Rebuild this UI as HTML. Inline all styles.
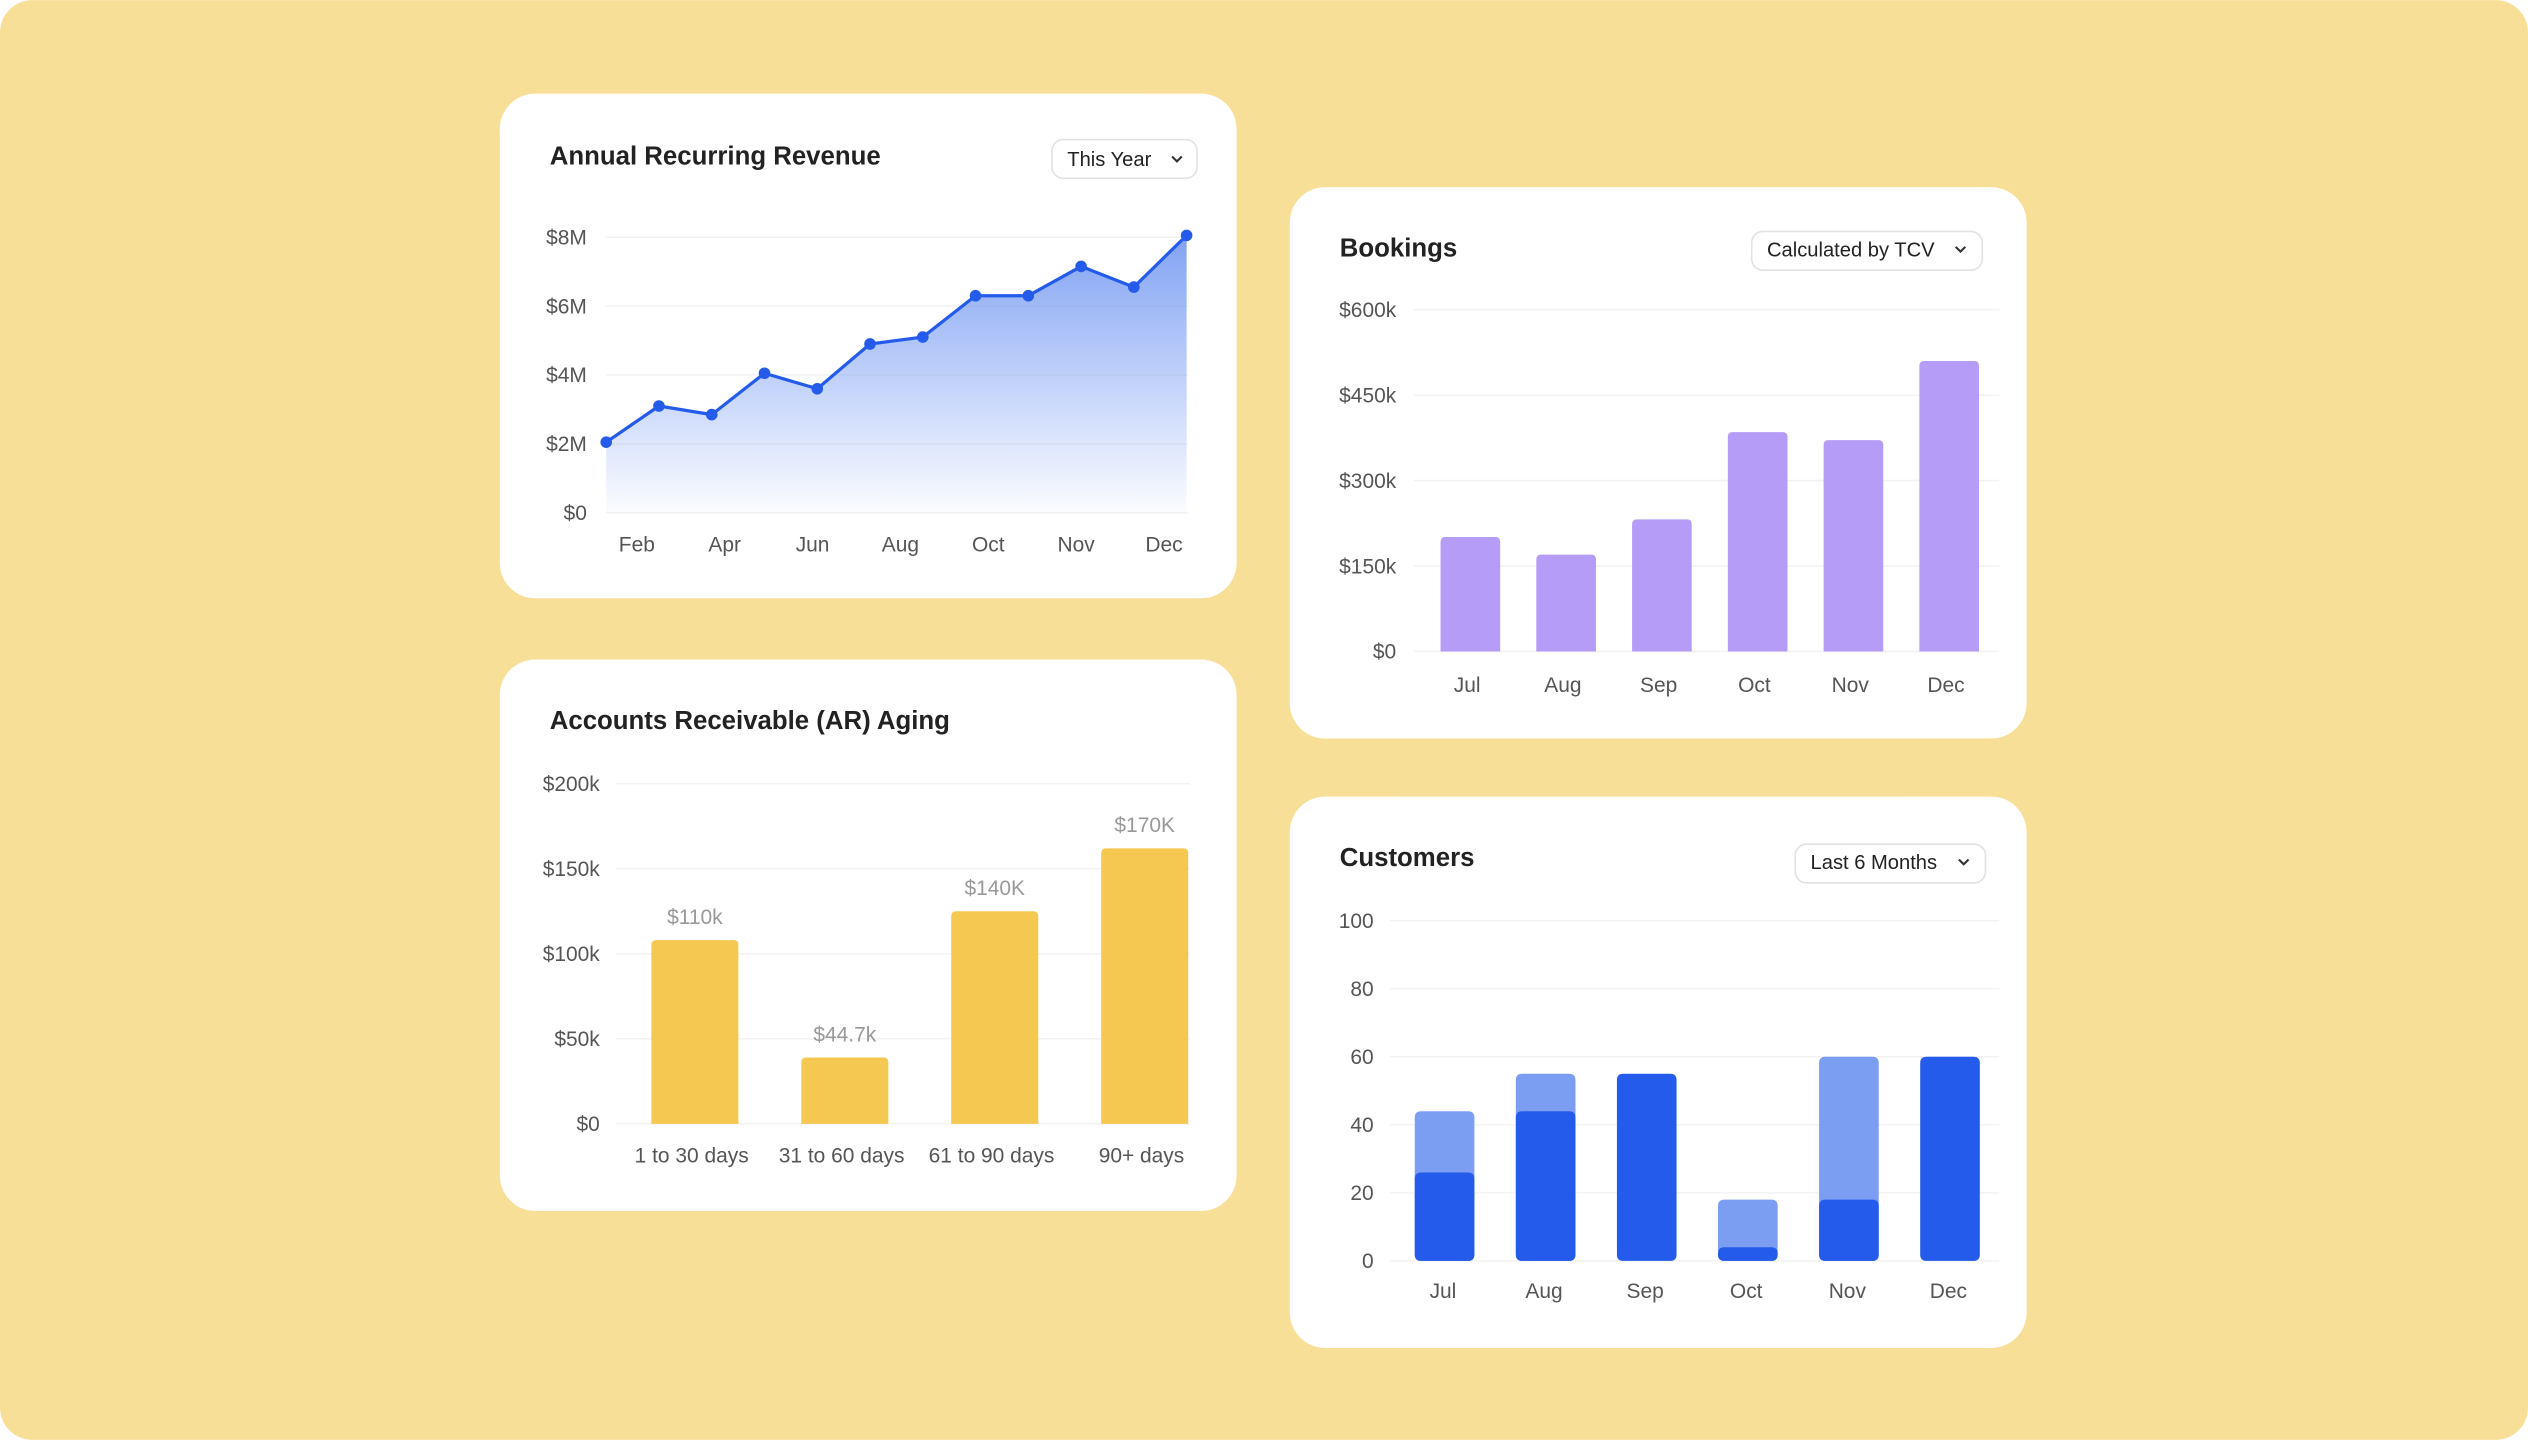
<!DOCTYPE html>
<html><head><meta charset="utf-8">
<style>
html,body{margin:0;padding:0;background:#fff;}
svg{display:block;font-family:"Liberation Sans",Arial,sans-serif;}
.tick{font-size:13px;fill:#555;}
.title{font-size:16px;font-weight:bold;fill:#222;}
.dd{font-size:12.5px;fill:#222;}
.grid{stroke:#f3f3f3;stroke-width:1;}
</style></head>
<body>
<svg id="root" width="2528" height="1440" viewBox="0 0 1568 893" xmlns="http://www.w3.org/2000/svg">
<defs>
<linearGradient id="areaGrad" x1="0" y1="0" x2="0" y2="1">
<stop offset="0" stop-color="#7b9ef3" stop-opacity="0.95"/>
<stop offset="1" stop-color="#7b9ef3" stop-opacity="0.03"/>
</linearGradient>
</defs>
<rect x="0" y="0" width="1568" height="893" rx="20" fill="#F8DF98"/>

<rect x="310" y="58" width="457" height="313" rx="22" fill="#fff"/>
<rect x="800" y="116" width="457" height="342" rx="22" fill="#fff"/>
<rect x="310" y="409" width="457" height="342" rx="22" fill="#fff"/>
<rect x="800" y="494" width="457" height="342" rx="22" fill="#fff"/>

<text x="341" y="102" class="title">Annual Recurring Revenue</text>
<g>
<rect x="652.5" y="86.5" width="90" height="24" rx="7" fill="#fff" stroke="#e2e2e2"/>
<text x="662" y="103" class="dd">This Year</text>
<path d="M727 97 l3 3 l3 -3" fill="none" stroke="#333" stroke-width="1.3"/>
</g>

<text x="831" y="159" class="title">Bookings</text>
<g>
<rect x="1086.5" y="143.5" width="143" height="24" rx="7" fill="#fff" stroke="#e2e2e2"/>
<text x="1096" y="159" class="dd">Calculated by TCV</text>
<path d="M1213 153 l3 3 l3 -3" fill="none" stroke="#333" stroke-width="1.3"/>
</g>

<text x="341" y="452" class="title">Accounts Receivable (AR) Aging</text>

<text x="831" y="537" class="title">Customers</text>
<g>
<rect x="1113.5" y="523.5" width="118" height="24" rx="7" fill="#fff" stroke="#e2e2e2"/>
<text x="1123" y="539" class="dd">Last 6 Months</text>
<path d="M1215 533 l3 3 l3 -3" fill="none" stroke="#333" stroke-width="1.3"/>
</g>

<g id="arr"></g><g id="book"></g><g id="ar"></g><g id="cust"></g>
</svg>
<script>
const arrTicks = [0, 2, 4, 6, 8];
const arrTickLabels = ["$0", "$2M", "$4M", "$6M", "$8M"];
const arrValues = [2.05, 3.1, 2.85, 4.05, 3.6, 4.9, 5.1, 6.3, 6.3, 7.15, 6.55, 8.05];
const arrXLabels = ["Feb", "Apr", "Jun", "Aug", "Oct", "Nov", "Dec"];
const bookCats = ["Jul", "Aug", "Sep", "Oct", "Nov", "Dec"];
const bookValues = [201, 170, 232, 385, 371, 510];
const bookTicks = [0, 150, 300, 450, 600];
const bookTickLabels = ["$0", "$150k", "$300k", "$450k", "$600k"];
const arCats = ["1 to 30 days", "31 to 60 days", "61 to 90 days", "90+ days"];
const arValues = [108, 39, 125, 162];
const arValueLabels = ["$110k", "$44.7k", "$140K", "$170K"];
const arTicks = [0, 50, 100, 150, 200];
const arTickLabels = ["$0", "$50k", "$100k", "$150k", "$200k"];
const custCats = ["Jul", "Aug", "Sep", "Oct", "Nov", "Dec"];
const custDark = [26, 44, 55, 4, 18, 60];
const custLight = [18, 11, 0, 14, 42, 0];
const custTicks = [0, 20, 40, 60, 80, 100];

const NS = "http://www.w3.org/2000/svg";
function mk(parent, tag, attrs, text) {
  const e = document.createElementNS(NS, tag);
  for (const k in attrs) e.setAttribute(k, attrs[k]);
  if (text !== undefined) e.textContent = text;
  parent.appendChild(e);
  return e;
}
function lin(d0, d1, r0, r1) { return v => r0 + (v - d0) * (r1 - r0) / (d1 - d0); }
function topRoundedBar(x, y, w, h, r) {
  r = Math.min(r, h / 2, w / 2);
  return `M${x},${y + h} V${y + r} Q${x},${y} ${x + r},${y} H${x + w - r} Q${x + w},${y} ${x + w},${y + r} V${y + h} Z`;
}
function allRoundedBar(x, y, w, h, r) {
  r = Math.min(r, h / 2, w / 2);
  return `M${x},${y + h - r} V${y + r} Q${x},${y} ${x + r},${y} H${x + w - r} Q${x + w},${y} ${x + w},${y + r} V${y + h - r} Q${x + w},${y + h} ${x + w - r},${y + h} H${x + r} Q${x},${y + h} ${x},${y + h - r} Z`;
}
function axisY(g, ticks, labels, y, x0, x1, lx, name) {
  ticks.forEach((t, i) => {
    const l = mk(g, "line", {x1: x0, x2: x1, y1: y(t), y2: y(t), class: "grid"});
    
    
    const tx = mk(g, "text", {x: lx, y: y(t) + 4.5, class: "tick", "text-anchor": "end"}, labels[i]);
    
    
  });
}

(function () {
  const g = document.getElementById("arr");
  const y = lin(0, 8, 318, 147);
  const x = i => 376 + i * (736 - 376) / (arrValues.length - 1);
  axisY(g, arrTicks, arrTickLabels, y, 376, 737, 364, 'arr');
  let d = `M${x(0)},${y(0)}`;
  arrValues.forEach((v, i) => d += ` L${x(i)},${y(v)}`);
  d += ` L${x(arrValues.length - 1)},${y(0)} Z`;
  const area = mk(g, "path", {d: d, fill: "url(#areaGrad)"});
  
  
  const line = mk(g, "polyline", {points: arrValues.map((v, i) => `${x(i)},${y(v)}`).join(" "), fill: "none", stroke: "#245BEB", "stroke-width": 2, "stroke-linejoin": "round"});
  
  
  arrValues.forEach((v, i) => {
    const c = mk(g, "circle", {cx: x(i), cy: y(v), r: 3.6, fill: "#245BEB"});
    
    
  });
  arrXLabels.forEach((t, i) => {
    const tx = mk(g, "text", {x: 395 + i * (722 - 395) / (arrXLabels.length - 1), y: 342, class: "tick", "text-anchor": "middle"}, t);
    
    
  });
})();

(function () {
  const g = document.getElementById("book");
  const y = lin(0, 600, 404, 192);
  const cx = i => 912 + i * 59.4;
  const w = 37;
  axisY(g, bookTicks, bookTickLabels, y, 877, 1240, 866, 'bookings');
  bookValues.forEach((v, i) => {
    const b = mk(g, "path", {d: topRoundedBar(cx(i) - w / 2, y(v), w, y(0) - y(v), 3), fill: "#B59DF7"});
    
    
    const tx = mk(g, "text", {x: cx(i) - 2, y: 429, class: "tick", "text-anchor": "middle"}, bookCats[i]);
    
    
  });
})();

(function () {
  const g = document.getElementById("ar");
  const y = lin(0, 200, 697, 486);
  const cx = i => 431 + i * 93;
  const w = 54;
  axisY(g, arTicks, arTickLabels, y, 382, 738, 372, 'ar');
  arValues.forEach((v, i) => {
    const b = mk(g, "path", {d: topRoundedBar(cx(i) - w / 2, y(v), w, y(0) - y(v), 3), fill: "#F5C851"});
    
    
    const vl = mk(g, "text", {x: cx(i), y: y(v) - 10, class: "tick", "text-anchor": "middle", style: "fill:#999"}, arValueLabels[i]);
    
    
    const tx = mk(g, "text", {x: cx(i) - 2, y: 721, class: "tick", "text-anchor": "middle"}, arCats[i]);
    
    
  });
})();

(function () {
  const g = document.getElementById("cust");
  const y = lin(0, 100, 782, 571);
  const cx = i => 896 + i * 62.7;
  const w = 37;
  axisY(g, custTicks, custTicks.map(String), y, 862, 1240, 852, 'customers');
  custDark.forEach((v, i) => {
    const tot = v + custLight[i];
    if (custLight[i] > 0) {
      const l = mk(g, "path", {d: allRoundedBar(cx(i) - w / 2, y(tot), w, y(0) - y(tot), 4), fill: "#7B9EF3"});
      
      
    }
    const b = mk(g, "path", {d: allRoundedBar(cx(i) - w / 2, y(v), w, y(0) - y(v), 4), fill: "#245BEB"});
    
    
    const tx = mk(g, "text", {x: cx(i) - 1, y: 805, class: "tick", "text-anchor": "middle"}, custCats[i]);
    
    
  });
})();
</script>
</body></html>
